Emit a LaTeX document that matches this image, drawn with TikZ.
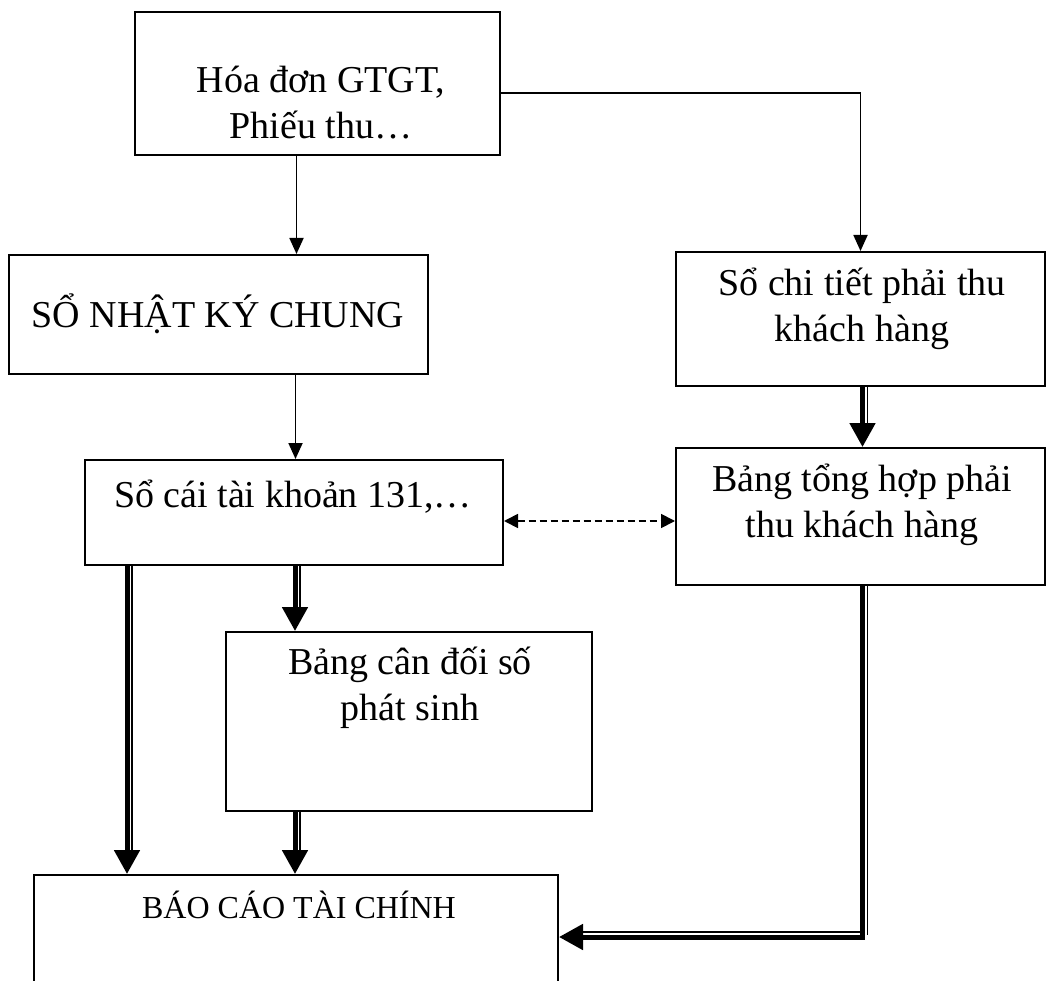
\documentclass[tikz,border=0pt]{standalone}
\usepackage{fontspec}
\setmainfont{Liberation Serif}
\usetikzlibrary{arrows.meta}
\begin{document}
\begin{tikzpicture}[x=1pt,y=-1pt,
  box/.style={draw, line width=2pt, inner sep=0pt},
  txt/.style={align=center, inner sep=0pt, font=\fontsize{38}{46}\selectfont},
  flow/.style={line width=1.8pt, -{Triangle[length=16pt,width=14pt]}},
  heavy/.style={line width=5pt, -{Triangle[length=24pt,width=25pt]}},
  light/.style={line width=1.6pt},
  link/.style={line width=1.8pt, dash pattern=on 7pt off 4pt,
    {Triangle[length=14pt,width=14pt]}-{Triangle[length=14pt,width=14pt]}}
]
\useasboundingbox (0,0) rectangle (1057,981);
\clip (0,0) rectangle (1057,981);

% boxes
\node[box, minimum width=365pt, minimum height=143pt] (hd)   at (317.5,83.5) {};
\node[box, minimum width=419pt, minimum height=119pt] (nkc)  at (218.5,314.5) {};
\node[box, minimum width=369pt, minimum height=134pt] (sct)  at (860.5,319) {};
\node[box, minimum width=418pt, minimum height=105pt] (sc)   at (294,512.5) {};
\node[box, minimum width=369pt, minimum height=137pt] (bth)  at (860.5,516.5) {};
\node[box, minimum width=366pt, minimum height=179pt] (bcd)  at (409,721.5) {};
\node[box, minimum width=524pt, minimum height=124pt] (bctc) at (296,937) {};

% texts
\node[txt] (thd)  at (321,103) {Hóa đơn GTGT,\\Phiếu thu…};
\node[txt] (tnkc) at (218,314) {SỔ NHẬT KÝ CHUNG};
\node[txt] (tsct) at (862,309) {Sổ chi tiết phải thu\\khách hàng};
\node[txt] (tbth) at (862,505) {Bảng tổng hợp phải\\thu khách hàng};
\node[txt] (tsc)  at (293,497) {Sổ cái tài khoản 131,…};
\node[txt] (tbcd) at (410,688) {Bảng cân đối số\\phát sinh};
\node[txt, font=\fontsize{32}{38}\selectfont] (tbctc) at (299,905) {BÁO CÁO TÀI CHÍNH};

% single-line connectors
\coordinate (hdout) at ([xshift=-21pt]hd.south);
\draw[flow] (hdout) -- (hdout |- nkc.north);
\coordinate (hdside) at (hd.east |- 0,93);
\draw[flow] (hdside) -| (sct.north);
\coordinate (nkcout) at ([xshift=-22pt]hd.south |- nkc.south);
\draw[flow] (nkcout) -- (nkcout |- sc.north);
\draw[link] (sc.east |- 0,521) -- (bth.west |- 0,521);

% double connectors: heavy stroke with a hairline beside it
\coordinate (sctout) at ([xshift=2pt]sct.south);
\draw[heavy] (sctout) -- (sctout |- bth.north);
\draw[light] ([xshift=5pt]sctout) -- ([xshift=5pt,yshift=24pt]sctout |- bth.north);

\coordinate (scl) at ([xshift=43pt]sc.south west);
\draw[heavy] (scl) -- (scl |- bctc.north);
\draw[light] ([xshift=5pt]scl) -- ([xshift=5pt,yshift=24pt]scl |- bctc.north);

\coordinate (scm) at ([xshift=1pt]sc.south);
\draw[heavy] (scm) -- (scm |- bcd.north);
\draw[light] ([xshift=5pt]scm) -- ([xshift=5pt,yshift=24pt]scm |- bcd.north);

\coordinate (bcdout) at (scm |- bcd.south);
\draw[heavy] (bcdout) -- (bcdout |- bctc.north);
\draw[light] ([xshift=5pt]bcdout) -- ([xshift=5pt,yshift=24pt]bcdout |- bctc.north);

\coordinate (bthout) at ([xshift=2pt]bth.south);
\draw[heavy] (bthout) |- (bctc.east);
\draw[light] ([xshift=5pt]bthout) -- ([xshift=5pt,yshift=2pt]bthout |- bctc.east);
\draw[light] ([xshift=-2.5pt,yshift=5pt]bthout |- bctc.east) -- ([xshift=24pt,yshift=5pt]bctc.east);
\end{tikzpicture}
\end{document}
